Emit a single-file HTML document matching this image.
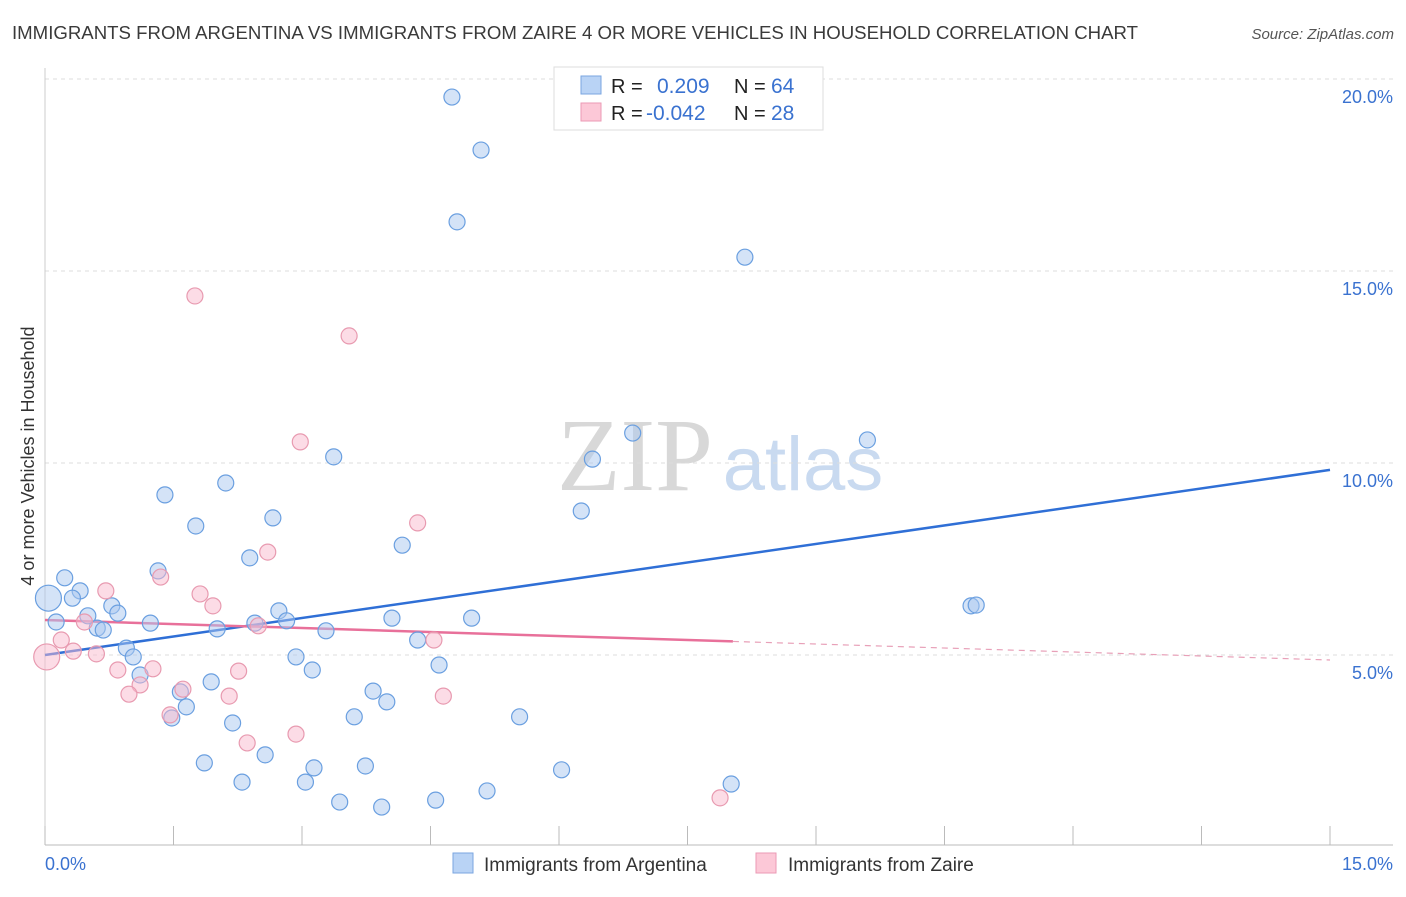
<!DOCTYPE html>
<html><head><meta charset="utf-8"><style>
body{margin:0;background:#fff;width:1406px;height:892px;overflow:hidden;font-family:"Liberation Sans",sans-serif}
</style></head><body>
<svg id="chart" width="1406" height="892" xmlns="http://www.w3.org/2000/svg" font-family="Liberation Sans, sans-serif">
<text x="12" y="39" font-size="18" fill="#3a3a3a" textLength="1126" lengthAdjust="spacingAndGlyphs">IMMIGRANTS FROM ARGENTINA VS IMMIGRANTS FROM ZAIRE 4 OR MORE VEHICLES IN HOUSEHOLD CORRELATION CHART</text>
<text x="1394" y="39" font-size="15" fill="#555" text-anchor="end" font-style="italic">Source: ZipAtlas.com</text>
<text transform="translate(34,456) rotate(-90)" font-size="18" fill="#333" text-anchor="middle">4 or more Vehicles in Household</text>
<g>
<text x="635" y="490" font-size="104" fill="#d8d8d8" font-family="Liberation Serif, serif" text-anchor="middle">ZIP</text>
<text x="803" y="490" font-size="76" fill="#c9daf0" text-anchor="middle">atlas</text>
</g>
<g id="grid"></g><g id="axes"></g><g id="trends"></g><g id="points"></g>
<g>
<rect x="554" y="67" width="269" height="63" fill="#fff" stroke="#ddd"/>
<rect x="581" y="76" width="20" height="18" fill="#b9d3f5" stroke="#7aa6e0"/>
<rect x="581" y="103" width="20" height="18" fill="#fcc8d7" stroke="#eb9ab4"/>
<text x="611" y="93" font-size="20" fill="#222">R =</text>
<text x="657" y="93" font-size="21" fill="#3a72d0">0.209</text>
<text x="734" y="93" font-size="20" fill="#222">N =</text>
<text x="771" y="93" font-size="21" fill="#3a72d0">64</text>
<text x="611" y="120" font-size="20" fill="#222">R =</text>
<text x="646" y="120" font-size="21" fill="#3a72d0">-0.042</text>
<text x="734" y="120" font-size="20" fill="#222">N =</text>
<text x="771" y="120" font-size="21" fill="#3a72d0">28</text>
</g>
<g>
<rect x="453" y="853" width="20" height="20" fill="#b9d3f5" stroke="#7aa6e0"/>
<text x="484" y="871" font-size="19" fill="#333">Immigrants from Argentina</text>
<rect x="756" y="853" width="20" height="20" fill="#fcc8d7" stroke="#eb9ab4"/>
<text x="788" y="871" font-size="19" fill="#333">Immigrants from Zaire</text>
</g>
</svg>
<script>
const yTicks=[5,10,15,20];
const yTickLabels=["5.0%","10.0%","15.0%","20.0%"];
const xTickLabels=["0.0%","15.0%"];
const argX=[4.75,5.09,4.81,8.17,6.86,9.60,6.39,3.37,2.11,1.40,1.76,6.26,2.66,4.17,2.39,1.32,0.23,0.41,0.32,0.78,0.85,0.50,2.73,4.05,4.98,2.45,2.82,1.23,0.61,0.68,2.01,3.28,0.13,0.04,4.35,0.95,1.03,2.93,4.60,3.12,1.11,1.94,1.58,3.83,3.99,1.65,1.48,3.61,5.54,2.19,2.57,1.86,3.14,3.74,6.03,2.30,3.04,8.01,5.16,4.56,3.44,3.93,10.81,10.87];
const argY=[19.53,18.15,16.28,15.36,10.78,10.60,10.10,10.16,9.48,9.17,8.36,8.75,8.57,7.86,7.53,7.19,7.01,6.67,6.48,6.28,6.09,6.02,6.15,5.96,5.96,5.83,5.89,5.83,5.70,5.65,5.68,5.63,5.86,6.48,5.39,5.18,4.95,4.95,4.74,4.61,4.48,4.30,4.04,4.06,3.78,3.65,3.36,3.39,3.39,3.23,2.40,2.19,2.06,2.11,2.01,1.69,1.69,1.64,1.46,1.22,1.17,1.04,6.28,6.30];
const zaiX=[1.75,3.55,2.98,4.35,2.60,1.35,0.71,1.81,1.96,0.46,2.49,0.19,4.54,0.33,0.60,0.02,1.26,2.26,0.85,1.61,1.11,0.98,2.15,4.65,1.46,2.93,2.36,7.88];
const zaiY=[14.35,13.31,10.55,8.44,7.68,7.03,6.67,6.59,6.28,5.86,5.76,5.39,5.39,5.10,5.03,4.95,4.64,4.58,4.61,4.11,4.22,3.98,3.93,3.93,3.44,2.94,2.71,1.28];
const argTrend=[5.0,9.82];
const zaiTrend=[5.91,4.87];
const zaiSolidEnd=8.03;
const X=v=>45+v*1285/15, Y=v=>847-v*38.4;
const NS="http://www.w3.org/2000/svg";
function mk(p,t,a){const e=document.createElementNS(NS,t);for(const k in a)e.setAttribute(k,a[k]);p.appendChild(e);return e;}
const grid=document.getElementById('grid'),axes=document.getElementById('axes'),tr=document.getElementById('trends'),pts=document.getElementById('points');
yTicks.forEach((t,i)=>{
 const l=mk(grid,'line',{x1:45,x2:1393,y1:Y(t),y2:Y(t),stroke:'#ddd','stroke-dasharray':'4,4'});
 
 
 const tx=mk(axes,'text',{x:1393,y:Y(t)+24,'font-size':18,fill:'#3a72d0','text-anchor':'end'});tx.textContent=yTickLabels[i];
 
 
});
mk(axes,'line',{x1:45,x2:45,y1:68,y2:845,stroke:'#ccc'});
const xa=mk(axes,'line',{x1:45,x2:1393,y1:845,y2:845,stroke:'#bbb'});


for(let i=0;i<=10;i++){mk(axes,'line',{x1:X(i*1.5),x2:X(i*1.5),y1:826,y2:845,stroke:'#bbb'});}
const xl0=mk(axes,'text',{x:45,y:870,'font-size':18,fill:'#3a72d0'});xl0.textContent=xTickLabels[0];


const xl1=mk(axes,'text',{x:1393,y:870,'font-size':18,fill:'#3a72d0','text-anchor':'end'});xl1.textContent=xTickLabels[1];


function draw(xs,ys,fill,stroke,name){xs.forEach((x,i)=>{const big=x<0.1;
 const c=mk(pts,'circle',{cx:X(x),cy:Y(ys[i]),r:big?13:8,fill:fill,stroke:stroke,'stroke-width':1.2});
 
 });}
draw(argX,argY,'rgba(170,200,240,0.5)','#6a9fe0','point-argentina');
draw(zaiX,zaiY,'rgba(250,185,205,0.5)','#e89ab0','point-zaire');
const at=v=>argTrend[0]+(argTrend[1]-argTrend[0])*v/15, zt=v=>zaiTrend[0]+(zaiTrend[1]-zaiTrend[0])*v/15;
const a=mk(tr,'line',{x1:X(0),y1:Y(at(0)),x2:X(15),y2:Y(at(15)),stroke:'#2f6fd6','stroke-width':2.5});


const z=mk(tr,'line',{x1:X(0),y1:Y(zt(0)),x2:X(zaiSolidEnd),y2:Y(zt(zaiSolidEnd)),stroke:'#e8709a','stroke-width':2.5});


const zd=mk(tr,'line',{x1:X(zaiSolidEnd),y1:Y(zt(zaiSolidEnd)),x2:X(15),y2:Y(zt(15)),stroke:'#e8a0b8','stroke-width':1.2,'stroke-dasharray':'6,5'});


</script>
</body></html>
